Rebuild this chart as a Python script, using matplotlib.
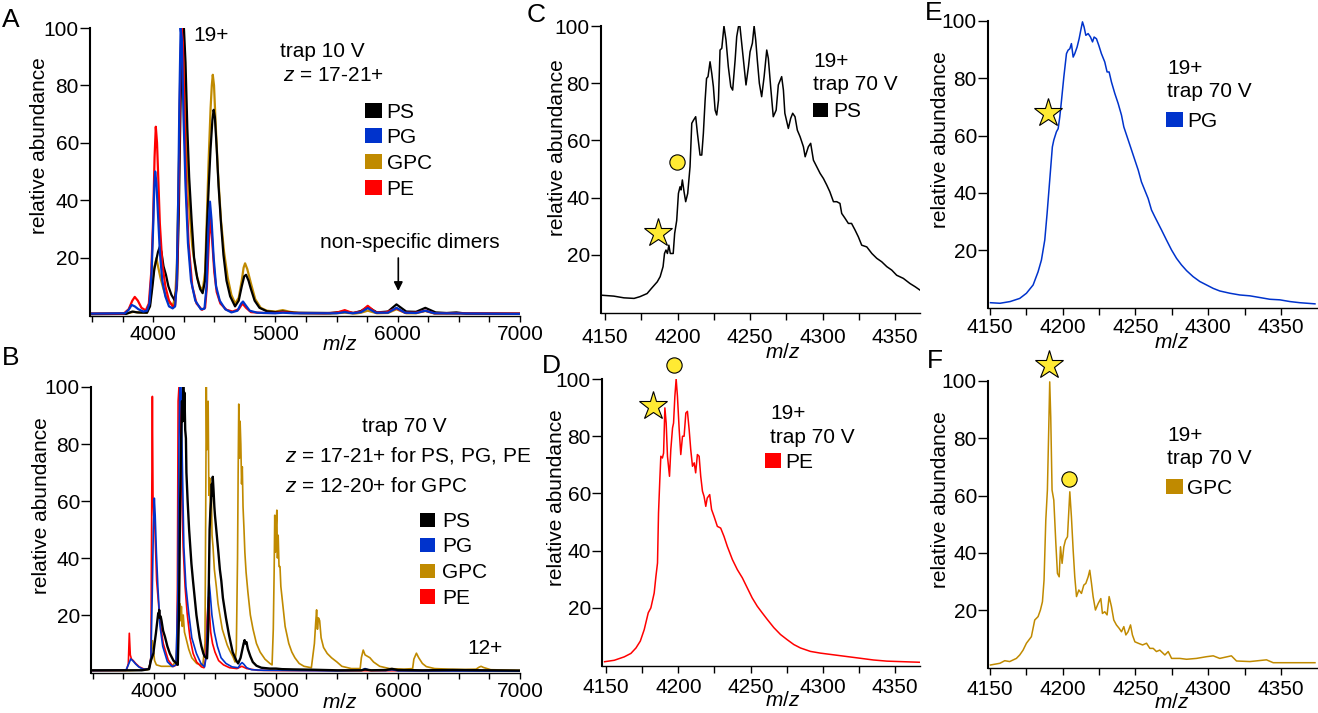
import matplotlib
matplotlib.use('Agg')
import matplotlib.pyplot as plt
from matplotlib.ticker import FixedLocator
from matplotlib.patches import Rectangle

plt.rcParams['font.family'] = ['Liberation Sans', 'DejaVu Sans']
plt.rcParams['mathtext.fontset'] = 'custom'
plt.rcParams['mathtext.rm'] = 'Liberation Sans'
plt.rcParams['mathtext.it'] = 'Liberation Sans:italic'

# ---------------- colours / names ----------------
lipids = ['PS', 'PG', 'GPC', 'PE']
colors = {'PS': '#000000', 'PG': '#0033CC', 'GPC': '#C08A00', 'PE': '#FF0000'}
star_color = '#FFEA33'

# ---------------- panel A (trap 10 V) : (m/z, relative abundance) ----------------
ps_a = [(3500,0.3),(3780,0.4),(3830,1.2),(3870,0.9),(3950,0.8),(3975,3),(3995,10),(4010,16),(4025,19),
        (4040,22),(4055,23.8),(4068,22),(4085,17),(4105,14),(4125,10),(4150,7),(4175,5.2),(4195,10),
        (4210,35),(4225,75),(4240,98),(4252,100),(4265,88),(4280,65),(4295,48),(4315,33),(4335,20),
        (4360,13),(4385,9),(4405,7.6),(4425,12),(4440,30),(4455,45),(4470,58),(4485,68),(4495,71.5),
        (4505,69),(4520,58),(4535,45),(4555,32),(4575,21),(4600,12),(4630,6.5),(4670,3),(4700,5),
        (4725,10),(4745,13.5),(4760,14),(4780,12),(4800,9),(4830,5),(4870,2.5),(4930,1.3),(5000,1.0),
        (5060,1.2),(5150,0.8),(5450,0.7),(5567,1.2),(5640,0.7),(5700,1.4),(5755,2.8),(5830,0.9),
        (5920,1.2),(5990,3.7),(6070,1.2),(6150,1.1),(6226,2.5),(6310,0.9),(6400,0.7),(6480,0.9),
        (6560,0.5),(7000,0.4)]
pg_a = [(3500,0.5),(3770,0.6),(3800,1.8),(3825,3.5),(3850,3.0),(3880,2.0),(3920,1.2),(3950,1.5),(3970,4),
        (3988,15),(4000,30),(4010,45),(4017,50),(4027,46),(4040,35),(4055,22),(4075,12),(4100,6.5),
        (4130,3),(4160,2.3),(4180,3),(4192,10),(4205,40),(4215,75),(4225,100),(4235,96),(4248,70),
        (4265,45),(4285,25),(4310,12),(4345,5),(4390,2),(4420,2.2),(4437,10),(4452,30),(4465,39.5),
        (4478,33),(4495,20),(4515,10),(4545,5),(4590,2),(4640,0.9),(4690,1.5),(4720,4),(4735,4.7),
        (4755,3.5),(4790,1.5),(4850,0.8),(5000,0.6),(5060,0.8),(5150,0.6),(5500,0.6),(5567,1.0),
        (5630,0.6),(5700,1.0),(5755,2.4),(5820,0.8),(5920,0.8),(5990,2.5),(6060,0.8),(6150,0.7),
        (6226,1.5),(6300,0.6),(7000,0.4)]
gpc_a = [(3500,0.5),(3790,0.6),(3840,1.1),(3900,0.8),(3950,0.8),(3975,4),(3995,12),(4012,17),(4027,19.8),
         (4040,17),(4060,13),(4085,9),(4110,6),(4140,4),(4162,3.5),(4180,6),(4195,18),(4210,50),(4225,85),
         (4238,97),(4250,94),(4262,80),(4278,55),(4295,38),(4320,24),(4350,15),(4380,10),(4406,8.7),
         (4425,15),(4440,35),(4455,55),(4470,72),(4480,80),(4488,83.7),(4498,80),(4510,68),(4530,50),
         (4555,33),(4580,22),(4610,13),(4640,7),(4671,4),(4700,6),(4725,12),(4740,16.5),(4752,18),
         (4770,16),(4800,11),(4835,5.5),(4880,2.5),(4930,1.5),(5000,1.2),(5060,1.7),(5120,1.1),(5200,0.6),
         (5450,0.5),(5567,0.8),(5650,0.5),(5700,0.8),(5755,1.5),(5830,0.6),(5920,0.7),(5990,2.0),
         (6070,0.6),(6150,0.6),(6226,1.4),(6300,0.5),(7000,0.5)]
pe_a = [(3500,0.5),(3760,0.5),(3800,2.0),(3830,5.0),(3850,6.3),(3875,5.0),(3905,2.5),(3940,1.6),(3965,4),
        (3985,15),(4000,33),(4012,55),(4022,65.6),(4032,60),(4042,48),(4055,32),(4075,18),(4100,10),
        (4130,5),(4160,3),(4180,3.5),(4195,12),(4210,45),(4222,85),(4232,100),(4243,95),(4256,70),
        (4270,45),(4290,25),(4320,10),(4355,4),(4400,1.8),(4425,2.5),(4440,10),(4455,25),(4467,33.7),
        (4480,28),(4500,15),(4520,8),(4550,4),(4600,1.8),(4650,1.2),(4700,2),(4730,4),(4760,2.5),
        (4800,1.0),(4900,0.7),(5000,0.7),(5060,1.0),(5150,0.7),(5400,0.6),(5500,0.8),(5567,1.7),
        (5630,0.7),(5700,1.2),(5755,3.2),(5820,0.9),(5900,0.9),(5990,2.3),(6060,0.8),(6150,0.8),
        (6226,1.5),(6300,0.6),(6480,0.6),(7000,0.5)]

# ---------------- panel B (trap 70 V) ----------------
ps_b = [(3500,0.6),(3800,0.6),(3900,0.6),(3960,1.0),(3975,4),(3995,6.5),(4005,10),(4016,13.6),(4025,17),
        (4035,20.6),(4039,19.5),(4043,21.8),(4048,19),(4055,19.5),(4062,18),(4075,14.5),(4090,12.4),
        (4110,9),(4130,6.5),(4160,4),(4185,3),(4195,2.5),(4205,20),(4215,60),(4222,80),(4230,95),
        (4236,88),(4240,100),(4245,92),(4250,98),(4256,85),(4262,82),(4266,70),(4276,60),(4288,50),
        (4307,38),(4320,32),(4334,26),(4348,20),(4361,16),(4375,12),(4389,9),(4405,6.5),(4416,5.4),
        (4435,4.8),(4445,15),(4450,32),(4456,50),(4462,56),(4468,60),(4474,66),(4478,62),(4482,68.5),
        (4488,64),(4495,58),(4500,55),(4515,48),(4528,42),(4540,36),(4552,32),(4565,26),(4590,19),
        (4615,13),(4645,7),(4675,4),(4690,3),(4710,5),(4725,8),(4735,10),(4743,11.2),(4750,10),
        (4758,10.5),(4770,8),(4790,5.5),(4810,3.5),(4840,2.2),(4880,1.5),(4950,1.2),(5000,1.2),
        (5050,1.0),(5150,0.9),(5300,0.8),(5500,0.6),(5700,0.6),(5730,0.9),(5780,0.6),(5900,0.7),
        (5950,1.1),(6000,0.7),(6200,0.6),(6450,0.7),(7000,0.5)]
pg_b = [(3500,0.5),(3770,0.6),(3790,2.5),(3810,4.6),(3830,3.8),(3850,2.8),(3875,1.8),(3910,1.0),(3960,1.0),
        (3975,5),(3985,25),(3995,50),(4003,61),(4010,55),(4020,42),(4032,30),(4050,16),(4072,9),(4110,3.6),
        (4150,1.9),(4180,2.5),(4195,25),(4205,80),(4212,100),(4222,100),(4232,75),(4245,44),(4262,30),
        (4285,20.6),(4310,12),(4348,6.5),(4385,3),(4415,1.8),(4430,6),(4442,22),(4451,32),(4460,28),
        (4475,20),(4495,14),(4520,9),(4550,5),(4590,3),(4640,1.8),(4690,1.5),(4710,2.8),(4722,3.3),
        (4735,2.8),(4760,1.5),(4800,0.8),(4900,0.6),(5000,0.6),(5200,0.5),(5500,0.4),(5700,0.6),
        (5730,1.2),(5770,0.6),(5900,0.5),(5950,0.8),(6000,0.4),(7000,0.3)]
gpc_b = [(3500,0.5),(3800,0.5),(3950,0.8),(3970,3),(3980,8),(3988,11),(3995,8),(4005,4),(4020,2.5),
         (4060,2),(4100,2),(4150,2),(4180,4),(4195,12),(4205,20),(4212,24),(4218,18),(4225,23),(4232,16),
         (4240,20),(4250,14),(4262,12),(4285,8),(4310,5),(4350,3),(4400,2.2),(4418,10),(4424,55),
         (4429,100),(4434,78),(4440,88),(4444,95),(4450,62),(4457,68),(4463,55),(4470,65),(4476,48),
         (4484,44),(4495,36),(4511,30),(4525,24),(4538,20.6),(4560,15),(4579,12.4),(4600,9.5),
         (4619,7.7),(4647,5.4),(4665,3.5),(4675,8),(4685,40),(4690,70),(4695,94),(4700,75),(4706,88),
         (4712,80),(4718,66),(4724,72),(4730,58),(4738,50),(4745,42),(4755,35),(4770,28),(4790,20),
         (4812,15),(4840,10),(4870,7),(4910,4.5),(4950,3),(4968,2.5),(4978,15),(4985,35),(4990,55),
         (4995,42),(5000,50),(5007,56.8),(5012,40),(5018,48),(5025,37),(5033,37),(5040,30),(5055,24),
         (5075,16),(5105,10),(5130,7),(5155,5),(5190,3),(5230,2),(5290,1.5),(5315,10),(5325,17),
         (5333,21.8),(5340,15),(5348,19),(5358,18),(5370,12),(5390,8.6),(5420,6.5),(5455,5),(5500,3.5),
         (5540,2),(5617,1.2),(5690,1.2),(5700,5),(5715,7.7),(5730,6),(5750,5.5),(5770,5),(5800,3.5),
         (5850,2),(5930,1.2),(6050,1.0),(6120,1.2),(6130,4.5),(6151,6.6),(6170,5),(6200,3),(6232,1.9),
         (6300,1.2),(6420,1.0),(6550,0.9),(6640,1.0),(6665,1.7),(6681,2.0),(6700,1.6),(6760,0.8),(7000,0.6)]
pe_b = [(3500,0.5),(3775,0.6),(3790,3),(3798,13.6),(3806,6),(3815,4.6),(3830,4.0),(3850,3.0),(3880,1.8),
        (3920,1.0),(3960,1.0),(3975,5),(3982,60),(3987,96.7),(3992,62),(3998,55),(4008,50),(4022,32),
        (4049,18),(4076,10),(4117,4.2),(4158,1.9),(4185,2.5),(4192,30),(4198,95),(4205,100),(4212,100),
        (4225,70),(4239,44),(4255,30),(4272,20.6),(4295,12),(4321,6.5),(4350,3.5),(4389,1.8),(4410,1.5),
        (4425,5),(4435,18),(4443,24),(4449,26.4),(4456,20),(4465,14),(4480,10),(4500,7),(4530,4),
        (4570,2.5),(4620,1.5),(4680,1.2),(4720,2),(4760,1.2),(4850,0.6),(5000,0.5),(7000,0.4)]

# ---------------- panels C-F (19+, trap 70 V) ----------------
ps_c = [(4148,5.9),(4156,5.6),(4163,5.0),(4170,4.8),(4174,5.4),(4179,6.5),(4182,8.3),(4186,10.6),(4188,12.4),
        (4190,15.9),(4191,20.5),(4192,21.7),(4193,20.5),(4194,23.4),(4195,20.5),(4197,20.5),(4198,27.5),
        (4199.4,32),(4200.6,41.5),(4201.7,43.8),(4202.4,42.7),(4203.3,46.2),(4204.5,42),(4205.6,38.6),
        (4207,41.5),(4208.6,50.8),(4209.8,66),(4210.9,67),(4212.5,68.3),(4213.7,62.5),(4215.5,54.9),
        (4216.7,54.9),(4217.8,62.5),(4219,74),(4220,81.7),(4221,82.3),(4222.4,87.5),(4223.6,83.4),
        (4224.7,78.8),(4225.9,70.6),(4227,68.9),(4228.2,74),(4229.3,91.6),(4230.5,92.2),(4232,100),
        (4233.4,95.1),(4235,85.8),(4236.7,78.8),(4238,77.6),(4239.7,88.1),(4240.8,96.3),(4242,99.8),
        (4243,100),(4244,95.1),(4245.9,85.8),(4247.2,79.4),(4248.9,85.8),(4250,91),(4251.6,94),
        (4252.8,100),(4253.9,95.1),(4255,88.1),(4256.4,80),(4258,75.3),(4259.7,82.3),(4261.5,91.6),
        (4262.6,88.7),(4264.3,78.2),(4266,68.3),(4268,70.6),(4269.5,79.4),(4271.8,82.3),(4273,77.6),
        (4274,69.5),(4276.4,64.2),(4278,67.7),(4279.4,69.5),(4281,68.3),(4282.6,63.6),(4284.5,61.3),
        (4286.8,57.8),(4288,54.3),(4290.2,57.8),(4291.8,59),(4293.7,53.1),(4296,50.8),(4298.3,48.5),
        (4300.6,46.7),(4302.9,44.4),(4305,42.1),(4307.5,38.6),(4309.8,38.6),(4312,38),(4313.2,34.5),
        (4315.5,32.8),(4317.8,31),(4320,31),(4322.4,28.7),(4324.7,26.3),(4327,23.4),(4330.5,22.8),
        (4334,20.5),(4337.4,18.8),(4340.8,17.6),(4344.3,15.9),(4347.7,14.7),(4351.1,12.9),(4355.7,11.8),
        (4360.3,10),(4363.8,8.9),(4367.2,7.7)]
pe_d = [(4149,1.2),(4155.7,1.7),(4162.6,2.9),(4167.2,4.1),(4170.7,6),(4173.7,8.4),(4176.4,12.4),(4179.2,18.3),
        (4181,20),(4183.3,25.2),(4184.5,31),(4185.6,35.7),(4186.3,53.2),(4187.2,64.8),(4187.9,73),(4189,72.4),
        (4189.8,74.1),(4190.7,89.9),(4191.6,84.6),(4192.5,73),(4193.9,66),(4194.8,75.3),(4196,82.9),
        (4196.7,84.6),(4197.6,93.9),(4198.5,100),(4199.4,93.9),(4200.6,82.3),(4201.7,73.6),(4202.9,80),
        (4204,80),(4205.2,88.1),(4206.3,88.7),(4207.5,82.3),(4208.6,75.3),(4209.8,69.5),(4211,70.7),
        (4212,67.2),(4213.2,73.6),(4214.4,73),(4215.5,66),(4216.7,60.8),(4217.8,59),(4219,55.5),(4220,58.4),
        (4221.7,59.6),(4223,54.4),(4224.7,52),(4227,48.5),(4229.3,47.9),(4231.6,45),(4233.9,41.5),
        (4237.4,36.9),(4240.8,33.4),(4244.3,30.5),(4247.7,27),(4251.1,23.5),(4254.6,20.6),(4258,18.3),
        (4261.5,16),(4266.1,13.1),(4270.7,10.7),(4275.3,8.9),(4279.9,7.2),(4284.5,6),(4291.4,4.8),
        (4298.3,4.2),(4307.5,3.6),(4316.7,3),(4325.9,2.4),(4335,1.8),(4344.3,1.4),(4355.7,1.2),(4367.2,1.0)]
pg_e = [(4150.5,1.6),(4157,1.4),(4164,2),(4170.6,3.1),(4175.2,4.9),(4179.8,7.8),(4183.2,12.4),(4185.5,16.5),
        (4187.8,23.5),(4189.4,32.8),(4191.2,44.4),(4193,56),(4194,58.4),(4195.8,61.3),(4197,62.4),
        (4198.1,66.5),(4199.3,72.3),(4200.9,80.5),(4202.7,88.6),(4203.8,89.8),(4205,90.3),(4206.1,92.1),
        (4207.3,87.4),(4208.4,88.6),(4210,90.9),(4211.4,93.8),(4212.5,96.7),(4213.7,99.7),(4214.8,97.9),
        (4216,95),(4217.6,95.6),(4219.2,94.4),(4220.6,92.7),(4221.7,94.4),(4223.3,93.8),(4224.9,91.5),
        (4226.7,88.6),(4229,85.7),(4230.6,82.2),(4232,82.2),(4233.6,78.7),(4235.9,74.7),(4238.2,71.2),
        (4240.5,67.1),(4242.1,63),(4244.4,59.5),(4246.7,56),(4249.7,51.4),(4252,47.9),(4254.2,43.8),
        (4256.5,40.9),(4258.8,38),(4261.1,34),(4263.4,31.6),(4265.7,29.3),(4268,27),(4271.4,23.5),
        (4274.9,20),(4278.3,17.1),(4281.7,14.8),(4285.2,12.8),(4289.7,10.7),(4294.3,9),(4298.9,7.8),
        (4303.5,6.6),(4308,5.7),(4315,4.9),(4321.8,4.3),(4328.7,4),(4335.6,3.4),(4342.4,2.8),(4349.3,2.6),
        (4356.2,2),(4363,1.6),(4373.4,1.2)]
gpc_f = [(4150.5,0.8),(4157,1.4),(4160.3,2.3),(4163.7,2),(4168.3,3.1),(4170.6,4.3),(4172.9,6),(4175.2,8.4),
         (4178.6,10.7),(4180.9,16.5),(4183.2,17.7),(4184.8,20),(4186.2,22.9),(4187.3,30.5),(4188.5,51.4),
         (4189.6,61.9),(4190.5,82.8),(4191.2,99.7),(4191.9,87.4),(4192.8,61.9),(4194,58.4),(4195.4,43.3),
         (4196.5,32.8),(4197.7,31.6),(4198.6,42.1),(4199.7,36.3),(4200.9,42.1),(4202,44.4),(4203.4,45.6),
         (4205,61.3),(4206.1,52.6),(4207.3,40.9),(4208.4,31.6),(4209.6,24.7),(4211.2,27),(4213,25.8),
         (4214.6,28.7),(4216,29.3),(4217.6,31.6),(4218.7,33.9),(4219.9,29.3),(4221,24.7),(4222.6,20),
         (4224.5,22.3),(4226.3,24),(4227.4,18.8),(4229,19.4),(4230.6,18.3),(4232,24.7),(4233.6,21.2),
         (4235.2,16.5),(4237,14.8),(4238.9,13.6),(4240.5,12.4),(4242.1,14.2),(4243.5,11.3),(4245,12.4),
         (4246.7,14.8),(4248,11.3),(4249.7,8.9),(4252,8.4),(4255,7.8),(4257.7,8.4),(4260,6.6),(4262.3,6.6),
         (4264.5,5.5),(4266.8,6),(4270.3,4.3),(4272.6,5.5),(4274.9,3.1),(4280.6,3.1),(4285.2,2.8),(4292,3.1),
         (4298.9,3.7),(4303.5,4),(4308,3.1),(4316,4),(4319.5,2.2),(4328.7,2),(4340.1,2.6),(4344.7,1.6),
         (4353.9,1.6),(4363,1.6),(4373.4,1.6)]

# marker positions (m/z, abundance): star, circle
markers_c = {'star': (4186.3, 27.5), 'circle': (4199.9, 52.6)}
markers_d = {'star': (4182.2, 90.7), 'circle': (4197.1, 105.0)}
markers_e = {'star': (4190.0, 67.7)}
markers_f = {'star': (4190.8, 105.5), 'circle': (4204.5, 65.9)}

y_ticks = [20, 40, 60, 80, 100]
wide_major = [4000, 5000, 6000, 7000]
wide_minor = [3500, 3750, 4250, 4500, 4750, 5250, 5500, 5750, 6250, 6500, 6750]
narrow_major = [4150, 4200, 4250, 4300, 4350]
narrow_minor = [4175, 4225, 4275, 4325, 4375]

FS = 15      # tick labels / annotations
FS_Y = 15    # y-axis titles
FS_L = 19    # panel letters

# ---------------- figure ----------------
W, H = 1318, 713
fig = plt.figure(figsize=(W / 100, H / 100), dpi=100)


def X(px):
    return px / W


def Y(py):
    return 1 - py / H


def make_axes(l, t, r, b, xlim, majors, minors, ylim, xlen, xpad):
    ax = fig.add_axes([X(l), Y(b), (r - l) / W, (b - t) / H])
    ax.patch.set_alpha(0)
    ax.set_xlim(*xlim)
    ax.set_ylim(*ylim)
    for s in ['top', 'right']:
        ax.spines[s].set_visible(False)
    ax.spines['left'].set_linewidth(1.5)
    ax.spines['bottom'].set_linewidth(1.0)
    ax.xaxis.set_major_locator(FixedLocator(majors))
    ax.xaxis.set_minor_locator(FixedLocator(minors))
    ax.yaxis.set_major_locator(FixedLocator(y_ticks))
    ax.tick_params(axis='y', direction='out', length=7, width=1.0, labelsize=FS, pad=1.0)
    ax.tick_params(axis='x', which='both', direction='out', length=xlen, width=1.0,
                   labelsize=FS, pad=xpad)
    return ax


def draw(ax, data, color, lw):
    xs = [p[0] for p in data]
    ys = [p[1] for p in data]
    ax.plot(xs, ys, color=color, lw=lw, solid_joinstyle='round')


def txt(px, py, s, size=FS, **kw):
    fig.text(X(px), Y(py), s, fontsize=size, ha=kw.pop('ha', 'left'),
             va=kw.pop('va', 'baseline'), **kw)


def square(l, t, r, b, color):
    fig.add_artist(Rectangle((X(l), Y(b)), (r - l) / W, (b - t) / H,
                             transform=fig.transFigure, color=color, lw=0))


def mark(ax, kind, pos):
    if kind == 'star':
        ax.plot([pos[0]], [pos[1]], marker='*', ms=21, mfc=star_color, mec='black',
                mew=0.8, clip_on=False, zorder=5)
    else:
        ax.plot([pos[0]], [pos[1]], marker='o', ms=11, mfc=star_color, mec='black',
                mew=0.8, clip_on=False, zorder=5)


# Panel A
axA = make_axes(90, 28, 520, 316, (3484, 7000), wide_major, wide_minor, (-0.35, 100), 4, 2.5)
for name, data in [('GPC', gpc_a), ('PS', ps_a), ('PE', pe_a), ('PG', pg_a)]:
    draw(axA, data, colors[name], 1.6)

# Panel B
axB = make_axes(91, 387, 520, 673, (3484, 7000), wide_major, wide_minor, (-0.35, 100), 4, 2.5)
for name, data, lw in [('GPC', gpc_b, 1.2), ('PE', pe_b, 1.2), ('PG', pg_b, 1.2), ('PS', ps_b, 1.7)]:
    draw(axB, data, colors[name], lw)

# Panel C
axC = make_axes(601, 26, 920, 313, (4147.2, 4367.2), narrow_major, narrow_minor, (-0.3, 100), 5, 5.5)
draw(axC, ps_c, colors['PS'], 1.1)
for k, v in markers_c.items():
    mark(axC, k, v)

# Panel D
axD = make_axes(602, 379, 920, 666, (4147.2, 4367.2), narrow_major, narrow_minor, (-0.3, 100), 5, 3.5)
draw(axD, pe_d, colors['PE'], 1.1)
for k, v in markers_d.items():
    mark(axD, k, v)

# Panel E
axE = make_axes(988, 21, 1317, 308, (4148.8, 4374.8), narrow_major, narrow_minor, (-0.25, 100), 5, 2.5)
draw(axE, pg_e, colors['PG'], 1.1)
for k, v in markers_e.items():
    mark(axE, k, v)

# Panel F
axF = make_axes(988, 381, 1317, 668, (4148.8, 4374.8), narrow_major, narrow_minor, (-0.25, 100), 5, 3.5)
draw(axF, gpc_f, colors['GPC'], 1.1)
for k, v in markers_f.items():
    mark(axF, k, v)

# y labels
for px, py in [(40, 146), (41.7, 506), (557.5, 148), (556.7, 498), (941, 140), (941, 500)]:
    txt(px, py, 'relative abundance', size=FS_Y, rotation=90, ha='center', va='center')

# m/z labels
for px, py in [(340, 345), (340, 702), (783, 353), (783, 701), (1172, 343), (1172, 703)]:
    txt(px, py, '$m/z$', size=FS, ha='center', va='center')

# panel letters
for px, py, s in [(1.7, 26.7, 'A'), (1.7, 365, 'B'), (526.7, 21.7, 'C'), (541.7, 373.3, 'D'),
                  (925, 20, 'E'), (926.7, 368.3, 'F')]:
    txt(px, py, s, size=FS_L)

# Panel A annotations
txt(193, 40.7, '19+')
txt(280, 57.3, 'trap 10 V')
txt(283, 81, '$z$ = 17-21+')
for (t, b), name in zip([(103, 118), (128, 143), (154, 169), (180, 195)], lipids):
    square(365, t, 382, b, colors[name])
    txt(386.7, b, name)
txt(320, 248.3, 'non-specific dimers')
axA.annotate('', xy=(X(398.3), Y(291)), xytext=(X(398.3), Y(258)),
             xycoords='figure fraction', textcoords='figure fraction',
             arrowprops=dict(arrowstyle='-|>', color='black', lw=1.2, mutation_scale=13,
                             shrinkA=0, shrinkB=0))

# Panel B annotations
txt(361.7, 431.7, 'trap 70 V')
txt(285, 461.7, '$z$ = 17-21+ for PS, PG, PE')
txt(285, 491.7, '$z$ = 12-20+ for GPC')
for (t, b), name in zip([(513, 527), (538, 552), (564, 578), (589, 604)], lipids):
    square(420, t, 435, b, colors[name])
    txt(442.3, b, name)
txt(467.3, 654, '12+')

# Panels C-F annotations
for (lx, b1, b2, sq, name) in [(813.3, 66.7, 90, (812.7, 102.7, 828.3, 116.7), 'PS'),
                               (770, 419.3, 442.7, (765, 453.3, 780.7, 468.3), 'PE'),
                               (1167.3, 74, 96.7, (1166, 111.7, 1182.7, 126.7), 'PG'),
                               (1167.3, 440.7, 464, (1166, 479.3, 1182.7, 494), 'GPC')]:
    txt(lx, b1, '19+')
    txt(lx, b2, 'trap 70 V')
    square(*sq, colors[name])
    txt(sq[2] + 4.5, sq[3], name)

fig.savefig('out.png', dpi=100)
